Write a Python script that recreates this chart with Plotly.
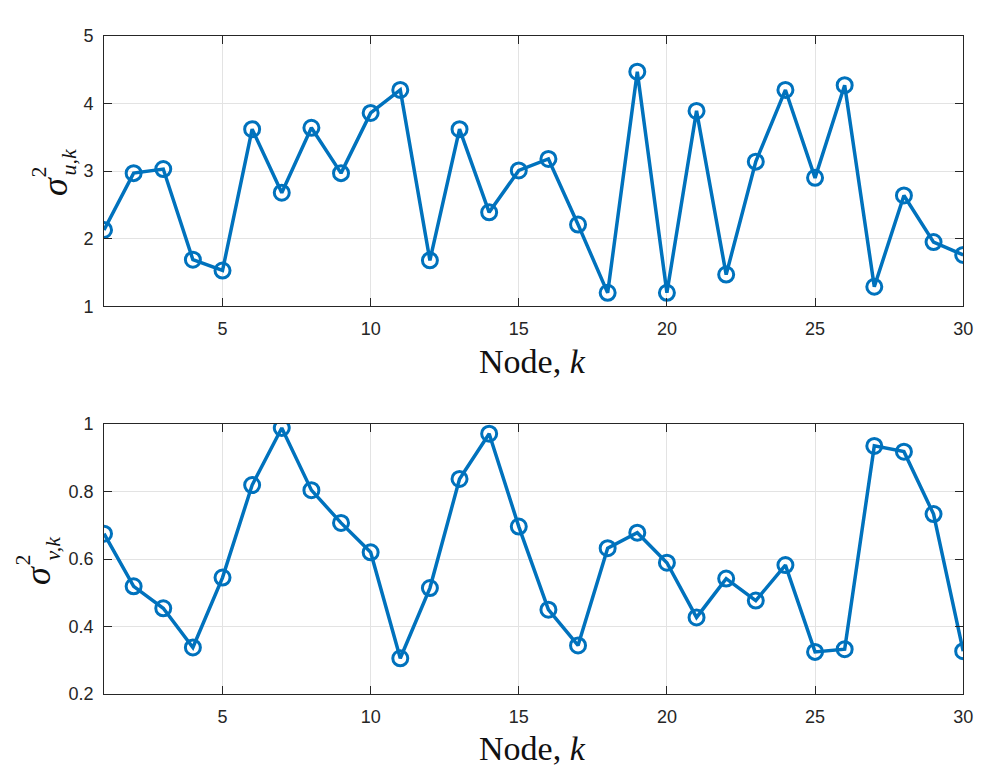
import plotly.graph_objects as go

# Node index
nodes = list(range(1, 31))

# Regressor noise variance per node (top panel)
sigma_u2 = [2.13, 2.97, 3.03, 1.69, 1.53, 3.62, 2.68, 3.64, 2.97, 3.86,
            4.20, 1.68, 3.62, 2.39, 3.01, 3.18, 2.21, 1.20, 4.47, 1.20,
            3.89, 1.47, 3.14, 4.20, 2.90, 4.27, 1.29, 2.64, 1.95, 1.76]

# Measurement noise variance per node (bottom panel)
sigma_v2 = [0.675, 0.519, 0.454, 0.338, 0.545, 0.819, 0.988, 0.804, 0.707, 0.620,
            0.306, 0.514, 0.837, 0.971, 0.696, 0.450, 0.344, 0.632, 0.678, 0.589,
            0.427, 0.542, 0.477, 0.582, 0.325, 0.333, 0.935, 0.918, 0.733, 0.327]

W, H = 983, 775
blue = "#0072BD"
axis_col = "#262626"
grid_col = "#e3e3e3"
tick_font = dict(family="Liberation Sans, Arial, sans-serif", size=18, color=axis_col)
serif = "Liberation Serif, Times New Roman, serif"

fig = go.Figure()

for vals, ax in [(sigma_u2, ""), (sigma_v2, "2")]:
    fig.add_trace(go.Scatter(
        x=nodes, y=vals, mode="lines+markers",
        xaxis="x" + ax, yaxis="y" + ax,
        line=dict(color=blue, width=3.5),
        marker=dict(symbol="circle-open", size=15, color=blue, line=dict(width=3, color=blue)),
        showlegend=False,
    ))

common = dict(
    showgrid=True, gridcolor=grid_col, gridwidth=1,
    showline=True, linecolor=axis_col, linewidth=1, mirror="ticks",
    ticks="inside", ticklen=8, tickcolor=axis_col,
    tickfont=tick_font, zeroline=False,
)
common_x = dict(range=[1, 30], tickvals=[5, 10, 15, 20, 25, 30],
                ticklabelstandoff=6, **common)
common_y = dict(ticklabelstandoff=6, **common)

x0, x1 = 97 / W, 965 / W
fig.update_layout(
    width=W, height=H,
    paper_bgcolor="white", plot_bgcolor="white",
    margin=dict(l=0, r=0, t=0, b=0),
    xaxis=dict(domain=[x0, x1], anchor="y", **common_x),
    yaxis=dict(domain=[1 - 296 / H, 1 - 18.3 / H], anchor="x",
               range=[1, 5], tickvals=[1, 2, 3, 4, 5], **common_y),
    xaxis2=dict(domain=[x0, x1], anchor="y2", **common_x),
    yaxis2=dict(domain=[1 - 694 / H, 1 - 416.7 / H], anchor="x2",
                range=[0.2, 1], tickvals=[0.2, 0.4, 0.6, 0.8, 1.0],
                ticktext=["0.2", "0.4", "0.6", "0.8", "1"], **common_y),
)

def label(text, px, py, size, angle=0):
    fig.add_annotation(
        text=text, x=px / W, y=1 - py / H, xref="paper", yref="paper",
        showarrow=False, textangle=angle, xanchor="center", yanchor="middle",
        font=dict(family=serif, size=size, color="#111111"),
    )

# x-axis titles
label("Node, <i>k</i>", 530, 353, 34)
label("Node, <i>k</i>", 530, 750, 34)

# y-axis titles built from pieces so the sub/superscripts stack
label("<i>σ</i>", 47, 173, 36, -90)
label("2", 31, 158, 22, -90)
label("<i>u,k</i>", 61, 147, 22, -90)

label("<i>σ</i>", 31, 572, 36, -90)
label("2", 15, 556, 22, -90)
label("<i>v,k</i>", 45, 544, 22, -90)

fig.write_html("out.html")
